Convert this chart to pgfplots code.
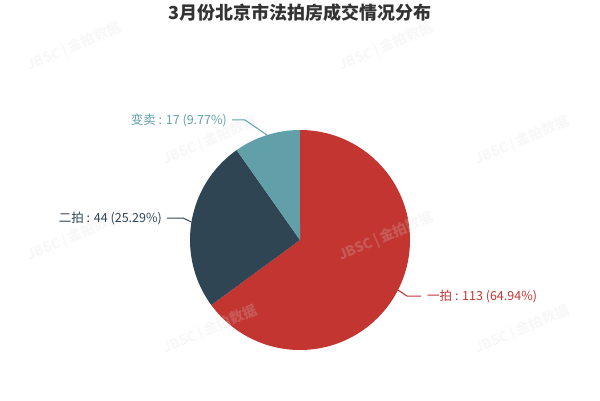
\documentclass[border=0pt]{standalone}
\usepackage{pgfplots}
\pgfplotsset{compat=1.18}
\usepackage{pgfplotstable}
\usepackage{fontspec}
\setmainfont{Noto Sans CJK SC}

\definecolor{pieRed}{HTML}{C23531}
\definecolor{pieDark}{HTML}{2F4554}
\definecolor{pieTeal}{HTML}{61A0A8}
\definecolor{titleGray}{HTML}{333333}
\definecolor{wmGray}{HTML}{DDDDDD}

% 3月份北京市法拍房成交: 一拍, 二拍, 变卖
\pgfplotstableread{
value
113
44
17
}\piedata

\begin{document}
\begin{tikzpicture}
\pgfplotstablegetelem{0}{value}\of\piedata \let\va\pgfplotsretval
\pgfplotstablegetelem{1}{value}\of\piedata \let\vb\pgfplotsretval
\pgfplotstablegetelem{2}{value}\of\piedata \let\vc\pgfplotsretval
\pgfmathsetmacro{\total}{\va+\vb+\vc}
\pgfmathsetmacro{\aA}{90}
\pgfmathsetmacro{\aB}{\aA-360*(\va/\total)}
\pgfmathsetmacro{\aC}{\aB-360*(\vb/\total)}
\pgfmathsetmacro{\aD}{\aC-360*(\vc/\total)}
\begin{axis}[
    width=600pt, height=400pt, scale only axis,
    xmin=0, xmax=600, ymin=0, ymax=400,
    hide axis, clip=false,
    ]
    % slices, clockwise from 12 o'clock
    \fill[pieRed] (axis cs:300,160) -- ++(\aA:110pt) arc[start angle=\aA, end angle=\aB, radius=110pt] -- cycle;
    \fill[pieDark] (axis cs:300,160) -- ++(\aB:110pt) arc[start angle=\aB, end angle=\aC, radius=110pt] -- cycle;
    \fill[pieTeal] (axis cs:300,160) -- ++(\aC:110pt) arc[start angle=\aC, end angle=\aD, radius=110pt] -- cycle;

    % watermark
    \foreach \wx/\wy in {74/353, 386/353, 210/259, 522/259, 74/163, 386/163, 210/70, 522/70} {
        \edef\wm{\noexpand\node[rotate=23, text=wmGray, text opacity=0.22,
            font=\noexpand\fontsize{14pt}{15pt}\noexpand\selectfont\noexpand\bfseries, inner sep=0pt]
            at (axis cs:\wx,\wy) {JBSC\noexpand\,|\noexpand\,金拍数据};}
        \wm
    }

    % labels
    \draw[pieRed, line width=1pt] (axis cs:398,110) -- (axis cs:407,104) -- (axis cs:421,104);
    \node[anchor=west, text=pieRed, font=\fontsize{12.5pt}{14pt}\selectfont, inner sep=0pt] at (axis cs:427,104) {一拍 : 113 (64.94\%)};
    \draw[pieDark, line width=1pt] (axis cs:191.5,178) -- (axis cs:183,182) -- (axis cs:167,182);
    \node[anchor=east, text=pieDark, font=\fontsize{12.5pt}{14pt}\selectfont, inner sep=0pt] at (axis cs:162,182) {二拍 : 44 (25.29\%)};
    \draw[pieTeal, line width=1pt] (axis cs:267,265) -- (axis cs:245,280) -- (axis cs:232,280);
    \node[anchor=east, text=pieTeal, font=\fontsize{12.5pt}{14pt}\selectfont, inner sep=0pt] at (axis cs:227,280) {变卖 : 17 (9.77\%)};

    % title
    \node[text=titleGray, font=\fontsize{18pt}{21pt}\selectfont\bfseries] at (axis cs:300,387) {3月份北京市法拍房成交情况分布};
\end{axis}
\pgfresetboundingbox
\path (0,0) rectangle (600pt,400pt);
\end{tikzpicture}
\end{document}
